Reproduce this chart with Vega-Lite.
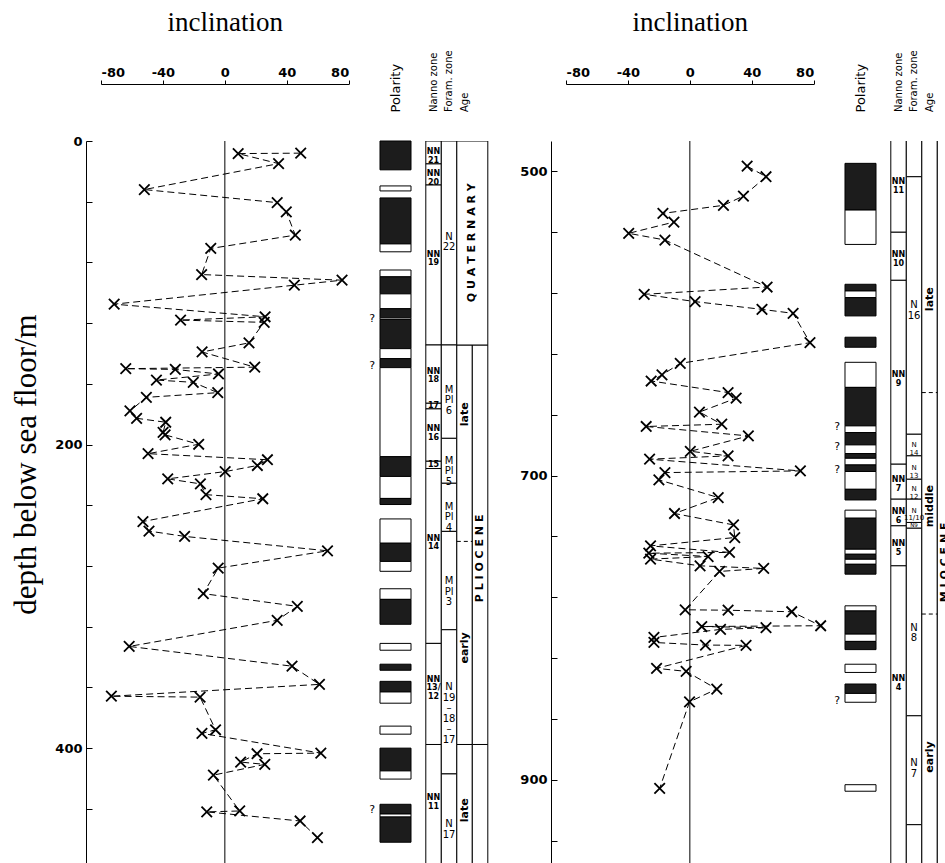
{
"$schema": "https://vega.github.io/schema/vega-lite/v6.json",
"padding": {"left": 10, "top": 8, "right": 0, "bottom": 0},
"background": "white",
"config": {"view": {"stroke": null}, "axis": {"grid": false}, "font": "DejaVu Sans"},
"datasets": {
"pts": [
{"p":"L","depth":8.0,"inc":49},{"p":"L","depth":8.3,"inc":8.6},{"p":"L","depth":14.9,"inc":34.7},{"p":"L","depth":32,"inc":-52},{"p":"L","depth":40.6,"inc":33.8},{"p":"L","depth":46.7,"inc":39.7},{"p":"L","depth":62,"inc":45.5},{"p":"L","depth":70.8,"inc":-9.1},{"p":"L","depth":88,"inc":-15},{"p":"L","depth":91.7,"inc":75.7},{"p":"L","depth":95,"inc":44.9},{"p":"L","depth":107.5,"inc":-71.5},{"p":"L","depth":115.8,"inc":26},{"p":"L","depth":118,"inc":-28.6},{"p":"L","depth":119.5,"inc":25.4},{"p":"L","depth":133,"inc":15.6},{"p":"L","depth":139,"inc":-14.7},{"p":"L","depth":149,"inc":19.3},{"p":"L","depth":150,"inc":-64},{"p":"L","depth":150.5,"inc":-32},{"p":"L","depth":153.5,"inc":-4.1},{"p":"L","depth":157.5,"inc":-44.2},{"p":"L","depth":159,"inc":-20.4},{"p":"L","depth":165.8,"inc":-4.6},{"p":"L","depth":168.9,"inc":-50.7},{"p":"L","depth":177.8,"inc":-61.3},{"p":"L","depth":182.7,"inc":-57},{"p":"L","depth":185.3,"inc":-38.2},{"p":"L","depth":192,"inc":-39.9},{"p":"L","depth":193.6,"inc":-38.6},{"p":"L","depth":199.8,"inc":-16.9},{"p":"L","depth":206,"inc":-49.6},{"p":"L","depth":210,"inc":27.5},{"p":"L","depth":213.8,"inc":21},{"p":"L","depth":217.8,"inc":0.2},{"p":"L","depth":222.6,"inc":-36.9},{"p":"L","depth":225.9,"inc":-15.8},{"p":"L","depth":233,"inc":-12.2},{"p":"L","depth":235.7,"inc":24.5},{"p":"L","depth":250.7,"inc":-52.9},{"p":"L","depth":257,"inc":-49},{"p":"L","depth":260.5,"inc":-26},{"p":"L","depth":270,"inc":66.3},{"p":"L","depth":281.4,"inc":-4.3},{"p":"L","depth":298.2,"inc":-13.9},{"p":"L","depth":306.6,"inc":46.8},{"p":"L","depth":315.8,"inc":33.8},{"p":"L","depth":333,"inc":-61.8},{"p":"L","depth":346,"inc":43.4},{"p":"L","depth":358,"inc":61.1},{"p":"L","depth":365.8,"inc":-73.3},{"p":"L","depth":366.4,"inc":-16},{"p":"L","depth":387.9,"inc":-6},{"p":"L","depth":390.3,"inc":-14.8},{"p":"L","depth":403.3,"inc":62},{"p":"L","depth":403.7,"inc":20.8},{"p":"L","depth":409.2,"inc":10.2},{"p":"L","depth":410.7,"inc":25.8},{"p":"L","depth":417.8,"inc":-7.4},{"p":"L","depth":441.4,"inc":9.6},{"p":"L","depth":442,"inc":-11.7},{"p":"L","depth":448,"inc":48.6},{"p":"L","depth":459,"inc":59.8},
{"p":"R","depth":496.5,"inc":37},{"p":"R","depth":503.5,"inc":49.2},{"p":"R","depth":516.2,"inc":34.6},{"p":"R","depth":522.3,"inc":21.7},{"p":"R","depth":527.6,"inc":-17.4},{"p":"R","depth":533.3,"inc":-10.3},{"p":"R","depth":540.7,"inc":-39.5},{"p":"R","depth":545.1,"inc":-16.1},{"p":"R","depth":576,"inc":49.9},{"p":"R","depth":580.8,"inc":-29.5},{"p":"R","depth":585.6,"inc":3.4},{"p":"R","depth":590.7,"inc":46.6},{"p":"R","depth":593.3,"inc":66.7},{"p":"R","depth":612.6,"inc":77.6},{"p":"R","depth":626.2,"inc":-6.2},{"p":"R","depth":633.8,"inc":-18},{"p":"R","depth":637.8,"inc":-25},{"p":"R","depth":645.4,"inc":24.7},{"p":"R","depth":649.1,"inc":29.9},{"p":"R","depth":658.2,"inc":6.2},{"p":"R","depth":666.2,"inc":20.6},{"p":"R","depth":667.7,"inc":-28.2},{"p":"R","depth":673.9,"inc":37.8},{"p":"R","depth":684,"inc":0.3},{"p":"R","depth":687,"inc":24.7},{"p":"R","depth":689.2,"inc":-26},{"p":"R","depth":696.9,"inc":71.4},{"p":"R","depth":698,"inc":-16.1},{"p":"R","depth":702.8,"inc":-20},{"p":"R","depth":714.4,"inc":18.3},{"p":"R","depth":724.9,"inc":-9.9},{"p":"R","depth":732.4,"inc":28.2},{"p":"R","depth":740.7,"inc":29},{"p":"R","depth":746.2,"inc":-25.4},{"p":"R","depth":750.5,"inc":25.6},{"p":"R","depth":751,"inc":-26.5},{"p":"R","depth":753.2,"inc":11.8},{"p":"R","depth":754.9,"inc":-25.4},{"p":"R","depth":759.3,"inc":6.6},{"p":"R","depth":761,"inc":47.7},{"p":"R","depth":763,"inc":19.2},{"p":"R","depth":788.2,"inc":-3},{"p":"R","depth":788.5,"inc":24.7},{"p":"R","depth":789.5,"inc":65.8},{"p":"R","depth":798.7,"inc":84.5},{"p":"R","depth":799.2,"inc":7.7},{"p":"R","depth":800,"inc":49.2},{"p":"R","depth":801.1,"inc":19.8},{"p":"R","depth":806.4,"inc":-23.2},{"p":"R","depth":809.7,"inc":-23.2},{"p":"R","depth":811.4,"inc":10.1},{"p":"R","depth":811.6,"inc":36.3},{"p":"R","depth":826.7,"inc":-21.5},{"p":"R","depth":828.7,"inc":-2.4},{"p":"R","depth":840.3,"inc":17.4},{"p":"R","depth":848.7,"inc":-0.2},{"p":"R","depth":905.6,"inc":-19.5}
],
"pol": [
{"p":"L","top":0,"bot":19,"pol":"N"},{"p":"L","top":29.6,"bot":32.9,"pol":"R"},{"p":"L","top":37.5,"bot":67.8,"pol":"N"},{"p":"L","top":67.8,"bot":73,"pol":"R"},{"p":"L","top":85,"bot":89.5,"pol":"R"},{"p":"L","top":89.5,"bot":100.7,"pol":"N"},{"p":"L","top":100.7,"bot":110.5,"pol":"R"},{"p":"L","top":110.5,"bot":116.5,"pol":"N"},{"p":"L","top":116.5,"bot":117.5,"pol":"R"},{"p":"L","top":117.5,"bot":136.8,"pol":"N"},{"p":"L","top":136.8,"bot":143.4,"pol":"R"},{"p":"L","top":143.4,"bot":149.3,"pol":"N"},{"p":"L","top":149.3,"bot":208,"pol":"R"},{"p":"L","top":208,"bot":221,"pol":"N"},{"p":"L","top":221,"bot":235.5,"pol":"R"},{"p":"L","top":235.5,"bot":239.5,"pol":"N"},{"p":"L","top":249,"bot":265,"pol":"R"},{"p":"L","top":265,"bot":277,"pol":"N"},{"p":"L","top":277,"bot":283.5,"pol":"R"},{"p":"L","top":295,"bot":302,"pol":"R"},{"p":"L","top":302,"bot":318.4,"pol":"N"},{"p":"L","top":331,"bot":335.5,"pol":"R"},{"p":"L","top":344.7,"bot":348.7,"pol":"N"},{"p":"L","top":356,"bot":363,"pol":"N"},{"p":"L","top":363,"bot":370.4,"pol":"R"},{"p":"L","top":385.5,"bot":390.8,"pol":"R"},{"p":"L","top":400,"bot":415,"pol":"N"},{"p":"L","top":415,"bot":420.4,"pol":"R"},{"p":"L","top":437,"bot":443.4,"pol":"N"},{"p":"L","top":443.4,"bot":445.4,"pol":"R"},{"p":"L","top":445.4,"bot":462,"pol":"N"},
{"p":"R","top":494.7,"bot":525.4,"pol":"N"},{"p":"R","top":525.4,"bot":548,"pol":"R"},{"p":"R","top":574.2,"bot":578.6,"pol":"N"},{"p":"R","top":578.6,"bot":583,"pol":"R"},{"p":"R","top":583,"bot":595,"pol":"N"},{"p":"R","top":609,"bot":615.6,"pol":"N"},{"p":"R","top":625.5,"bot":642,"pol":"R"},{"p":"R","top":642,"bot":667.3,"pol":"N"},{"p":"R","top":667.3,"bot":671.7,"pol":"R"},{"p":"R","top":671.7,"bot":679.8,"pol":"N"},{"p":"R","top":679.8,"bot":685.5,"pol":"R"},{"p":"R","top":685.5,"bot":688.6,"pol":"N"},{"p":"R","top":688.6,"bot":693,"pol":"R"},{"p":"R","top":693,"bot":697.3,"pol":"N"},{"p":"R","top":697.3,"bot":709,"pol":"R"},{"p":"R","top":709,"bot":716,"pol":"N"},{"p":"R","top":722.7,"bot":728,"pol":"R"},{"p":"R","top":728,"bot":748.4,"pol":"N"},{"p":"R","top":748.4,"bot":751.7,"pol":"R"},{"p":"R","top":751.7,"bot":755,"pol":"N"},{"p":"R","top":755,"bot":758.3,"pol":"R"},{"p":"R","top":758.3,"bot":764.8,"pol":"N"},{"p":"R","top":785.6,"bot":789,"pol":"R"},{"p":"R","top":789,"bot":804.2,"pol":"N"},{"p":"R","top":804.2,"bot":809,"pol":"R"},{"p":"R","top":809,"bot":814.4,"pol":"N"},{"p":"R","top":824,"bot":829.4,"pol":"R"},{"p":"R","top":837,"bot":843.2,"pol":"N"},{"p":"R","top":843.2,"bot":849,"pol":"R"},{"p":"R","top":903.2,"bot":907.5,"pol":"R"}
],
"q": [{"p":"L","d":117},{"p":"L","d":148},{"p":"L","d":441},{"p":"R","d":668},{"p":"R","d":681},{"p":"R","d":696},{"p":"R","d":848}],
"hd": [{"c":0.5,"t":"Nanno zone"},{"c":1.5,"t":"Foram. zone"},{"c":2.5,"t":"Age"}],
"zb": [
{"p":"L","c0":0,"c1":1,"top":0,"bot":15.1},{"p":"L","c0":0,"c1":1,"top":15.1,"bot":29},{"p":"L","c0":0,"c1":1,"top":29,"bot":134.4},{"p":"L","c0":0,"c1":1,"top":134.4,"bot":172.8},{"p":"L","c0":0,"c1":1,"top":172.8,"bot":176.5},{"p":"L","c0":0,"c1":1,"top":176.5,"bot":211},{"p":"L","c0":0,"c1":1,"top":211,"bot":215.8},{"p":"L","c0":0,"c1":1,"top":215.8,"bot":331},{"p":"L","c0":0,"c1":1,"top":331,"bot":397.6},{"p":"L","c0":0,"c1":1,"top":397.6,"bot":500},
{"p":"L","c0":1,"c1":2,"top":0,"bot":134.4},{"p":"L","c0":1,"c1":2,"top":134.4,"bot":195.9},{"p":"L","c0":1,"c1":2,"top":195.9,"bot":225.5},{"p":"L","c0":1,"c1":2,"top":225.5,"bot":257.2},{"p":"L","c0":1,"c1":2,"top":257.2,"bot":322},{"p":"L","c0":1,"c1":2,"top":322,"bot":417},{"p":"L","c0":1,"c1":2,"top":417,"bot":500},
{"p":"L","c0":2,"c1":3,"top":134.4,"bot":397.6},{"p":"L","c0":2,"c1":3,"top":397.6,"bot":500},{"p":"L","c0":3,"c1":4,"top":134.4,"bot":397.6},{"p":"L","c0":3,"c1":4,"top":397.6,"bot":500},{"p":"L","c0":2,"c1":4,"top":0,"bot":134.4},
{"p":"R","c0":0,"c1":1,"top":470,"bot":540},{"p":"R","c0":0,"c1":1,"top":540,"bot":571.6},{"p":"R","c0":0,"c1":1,"top":571.6,"bot":692.5},{"p":"R","c0":0,"c1":1,"top":692.5,"bot":715.5},{"p":"R","c0":0,"c1":1,"top":715.5,"bot":733},{"p":"R","c0":0,"c1":1,"top":733,"bot":759.3},{"p":"R","c0":0,"c1":1,"top":759.3,"bot":1000},
{"p":"R","c0":1,"c1":2,"top":470,"bot":503.5},{"p":"R","c0":1,"c1":2,"top":503.5,"bot":672.8},{"p":"R","c0":1,"c1":2,"top":672.8,"bot":687},{"p":"R","c0":1,"c1":2,"top":687,"bot":702.4},{"p":"R","c0":1,"c1":2,"top":702.4,"bot":715.5},{"p":"R","c0":1,"c1":2,"top":715.5,"bot":730.8},{"p":"R","c0":1,"c1":2,"top":730.8,"bot":734.6},{"p":"R","c0":1,"c1":2,"top":734.6,"bot":857.9},{"p":"R","c0":1,"c1":2,"top":857.9,"bot":929.5},{"p":"R","c0":1,"c1":2,"top":929.5,"bot":1000},
{"p":"R","c0":2,"c1":3,"top":470,"bot":1000},{"p":"R","c0":3,"c1":4,"top":470,"bot":1000}
],
"zd": [{"p":"L","c0":2,"c1":3,"d":263.8},{"p":"R","c0":2,"c1":3,"d":645.4},{"p":"R","c0":2,"c1":3,"d":791}],
"zl": [
{"p":"L","c0":0,"c1":1,"ld":7.5,"t":"NN\n21","k":"nn"},{"p":"L","c0":0,"c1":1,"ld":22,"t":"NN\n20","k":"nn"},{"p":"L","c0":0,"c1":1,"ld":75,"t":"NN\n19","k":"nn"},{"p":"L","c0":0,"c1":1,"ld":152,"t":"NN\n18","k":"nn"},{"p":"L","c0":0,"c1":1,"ld":174.6,"t":"17","k":"nn"},{"p":"L","c0":0,"c1":1,"ld":190,"t":"NN\n16","k":"nn"},{"p":"L","c0":0,"c1":1,"ld":213.4,"t":"15","k":"nn"},{"p":"L","c0":0,"c1":1,"ld":262,"t":"NN\n14","k":"nn"},{"p":"L","c0":0,"c1":1,"ld":355,"t":"NN\n13/\n12","k":"nn"},{"p":"L","c0":0,"c1":1,"ld":433,"t":"NN\n11","k":"nn"},
{"p":"L","c0":1,"c1":2,"ld":63,"t":"N\n22","k":"fo"},{"p":"L","c0":1,"c1":2,"ld":164,"t":"M\nPl\n6","k":"fo"},{"p":"L","c0":1,"c1":2,"ld":210.5,"t":"M\nPl\n5","k":"fo"},{"p":"L","c0":1,"c1":2,"ld":241,"t":"M\nPl\n4","k":"fo"},{"p":"L","c0":1,"c1":2,"ld":290,"t":"M\nPl\n3","k":"fo"},{"p":"L","c0":1,"c1":2,"ld":360,"t":"N\n19\n–\n18\n–\n17","k":"fo"},{"p":"L","c0":1,"c1":2,"ld":450,"t":"N\n17","k":"fo"},
{"p":"L","c0":2,"c1":3,"ld":180,"t":"late","k":"age"},{"p":"L","c0":2,"c1":3,"ld":334,"t":"early","k":"age"},{"p":"L","c0":2,"c1":3,"ld":441,"t":"late","k":"age"},{"p":"L","c0":2,"c1":4,"ld":67,"t":"Q U A T E R N A R Y","k":"age"},{"p":"L","c0":3,"c1":4,"ld":275,"t":"P L I O C E N E","k":"age"},
{"p":"R","c0":0,"c1":1,"ld":507,"t":"NN\n11","k":"nn"},{"p":"R","c0":0,"c1":1,"ld":555,"t":"NN\n10","k":"nn"},{"p":"R","c0":0,"c1":1,"ld":634,"t":"NN\n9","k":"nn"},{"p":"R","c0":0,"c1":1,"ld":703,"t":"NN\n7","k":"nn"},{"p":"R","c0":0,"c1":1,"ld":724,"t":"NN\n6","k":"nn"},{"p":"R","c0":0,"c1":1,"ld":745,"t":"NN\n5","k":"nn"},{"p":"R","c0":0,"c1":1,"ld":834,"t":"NN\n4","k":"nn"},
{"p":"R","c0":1,"c1":2,"ld":588,"t":"N\n16","k":"fo"},{"p":"R","c0":1,"c1":2,"ld":680,"t":"N\n14","k":"fs"},{"p":"R","c0":1,"c1":2,"ld":695,"t":"N\n13","k":"fs"},{"p":"R","c0":1,"c1":2,"ld":709,"t":"N\n12","k":"fs"},{"p":"R","c0":1,"c1":2,"ld":723,"t":"N\n11/10","k":"fs"},{"p":"R","c0":1,"c1":2,"ld":732.7,"t":"N9","k":"ft"},{"p":"R","c0":1,"c1":2,"ld":800,"t":"N\n8","k":"fo"},{"p":"R","c0":1,"c1":2,"ld":889,"t":"N\n7","k":"fo"},
{"p":"R","c0":2,"c1":3,"ld":584,"t":"late","k":"age"},{"p":"R","c0":2,"c1":3,"ld":720,"t":"middle","k":"age"},{"p":"R","c0":2,"c1":3,"ld":885,"t":"early","k":"age"},{"p":"R","c0":3,"c1":4,"ld":757,"t":"M  I  O  C  E  N  E","k":"age"}
]
},
"hconcat": [
 {"width": 247.7, "height": 724,
  "layer": [
   {"data": {"name": "pts"}, "transform": [{"filter": "datum.p === 'L'"}],
    "mark": {"type": "line", "strokeDash": [7, 4], "strokeWidth": 1, "color": "black"},
    "encoding": {
     "x": {"field": "inc", "type": "quantitative", "scale": {"domain": [-80, 80], "nice": false, "zero": false},
       "axis": {"orient": "top", "offset": 57, "domain": true, "domainColor": "black", "values": [-80,-60,-40,-20,0,20,40,60,80], "labelExpr": "datum.value % 40 === 0 ? '' + datum.value : ''", "labelOverlap": false, "tickSize": 4, "tickColor": "black", "labelPadding": 1, "labelFont": "DejaVu Sans", "labelFontWeight": "bold", "labelFontSize": 13, "labelColor": "black", "title": "inclination", "titleFont": "Liberation Serif", "titleFontSize": 27, "titleFontWeight": "normal", "titleColor": "black", "titlePadding": 30}},
     "y": {"field": "depth", "type": "quantitative", "scale": {"domain": [0, 477], "reverse": true, "nice": false, "zero": false},
       "axis": {"orient": "left", "offset": 15, "values": [0,20,40,60,80,100,120,140,160,180,200,220,240,260,280,300,320,340,360,380,400,420,440,460], "labelExpr": "datum.value % 100 === 0 ? '' + datum.value : ''", "labelOverlap": false, "tickSize": -6, "tickColor": "black", "domainColor": "black", "labelPadding": 10, "labelFont": "DejaVu Sans", "labelFontWeight": "bold", "labelFontSize": 13, "labelColor": "black", "title": "depth below sea floor/m", "titleFont": "Liberation Serif", "titleFontSize": 31, "titleFontWeight": "normal", "titleColor": "black", "titlePadding": 12, "titleY": 323}},
     "order": {"field": "depth", "type": "quantitative"}}},
   {"data": {"name": "pts"}, "transform": [{"filter": "datum.p === 'L'"}],
    "mark": {"type": "point", "shape": "M-1,-1L1,1M-1,1L1,-1", "filled": false, "strokeWidth": 1.8, "size": 110, "color": "black", "opacity": 1},
    "encoding": {"x": {"field": "inc", "type": "quantitative"}, "y": {"field": "depth", "type": "quantitative"}}},
   {"data": {"values": [{}]}, "mark": {"type": "rule", "color": "black", "strokeWidth": 1}, "encoding": {"x": {"datum": 0}}}
  ]},
 {"width": 60, "height": 724,
  "layer": [
   {"data": {"name": "pol"}, "transform": [{"filter": "datum.p === 'L'"}],
    "mark": {"type": "rect", "stroke": "black", "strokeWidth": 1},
    "encoding": {
     "x": {"datum": 0, "type": "quantitative", "scale": {"domain": [-0.935, 1], "nice": false, "zero": false},
       "axis": {"orient": "top", "values": [0.5], "labelExpr": "'Polarity'", "labelAngle": 270, "labelAlign": "left", "labelBaseline": "middle", "labelPadding": 29, "ticks": false, "domain": false, "labelFontSize": 13, "labelColor": "black", "title": null}},
     "x2": {"datum": 1},
     "y": {"field": "top", "type": "quantitative", "scale": {"domain": [0, 477], "reverse": true, "nice": false, "zero": false}, "axis": null},
     "y2": {"field": "bot"},
     "fill": {"field": "pol", "type": "nominal", "scale": {"domain": ["N", "R"], "range": ["#1c1c1c", "#ffffff"]}, "legend": null}}},
   {"data": {"name": "q"}, "transform": [{"filter": "datum.p === 'L'"}],
    "mark": {"type": "text", "text": "?", "fontSize": 11, "color": "black"},
    "encoding": {"x": {"datum": -0.25, "type": "quantitative"}, "y": {"field": "d", "type": "quantitative"}}}
  ]},
 {"width": 150.3, "height": 724,
  "layer": [
   {"data": {"name": "zb"}, "transform": [{"filter": "datum.p === 'L'"}],
    "mark": {"type": "rect", "fill": "white", "stroke": "black", "strokeWidth": 1, "clip": true},
    "encoding": {
     "x": {"field": "c0", "type": "quantitative", "scale": {"domain": [-0.826, 8.87], "nice": false, "zero": false}, "axis": null},
     "x2": {"field": "c1"},
     "y": {"field": "top", "type": "quantitative", "scale": {"domain": [0, 477], "reverse": true, "nice": false, "zero": false}, "axis": null},
     "y2": {"field": "bot"}}},
   {"data": {"name": "hd"},
    "mark": {"type": "text", "angle": 270, "align": "left", "baseline": "middle", "dx": 29, "fontSize": 10, "color": "black"},
    "encoding": {"x": {"field": "c", "type": "quantitative"}, "y": {"datum": 0}, "text": {"field": "t"}}},
   {"data": {"name": "zd"}, "transform": [{"filter": "datum.p === 'L'"}],
    "mark": {"type": "rule", "color": "black", "strokeWidth": 1, "strokeDash": [4, 3]},
    "encoding": {"x": {"field": "c0", "type": "quantitative"}, "x2": {"field": "c1"}, "y": {"field": "d", "type": "quantitative"}}},
   {"data": {"name": "zl"}, "transform": [{"filter": "datum.p === 'L' && datum.k === 'nn'"}, {"calculate": "(datum.c0 + datum.c1) / 2", "as": "xc"}],
    "mark": {"type": "text", "fontSize": 8, "fontWeight": "bold", "lineHeight": 8.5, "lineBreak": "\n", "align": "center", "baseline": "middle", "color": "black"},
    "encoding": {"x": {"field": "xc", "type": "quantitative"}, "y": {"field": "ld", "type": "quantitative"}, "text": {"field": "t"}}},
   {"data": {"name": "zl"}, "transform": [{"filter": "datum.p === 'L' && datum.k === 'fo'"}, {"calculate": "(datum.c0 + datum.c1) / 2", "as": "xc"}],
    "mark": {"type": "text", "fontSize": 10, "lineHeight": 10.5, "lineBreak": "\n", "align": "center", "baseline": "middle", "color": "black"},
    "encoding": {"x": {"field": "xc", "type": "quantitative"}, "y": {"field": "ld", "type": "quantitative"}, "text": {"field": "t"}}},
   {"data": {"name": "zl"}, "transform": [{"filter": "datum.p === 'L' && datum.k === 'age'"}, {"calculate": "(datum.c0 + datum.c1) / 2", "as": "xc"}],
    "mark": {"type": "text", "fontSize": 11, "fontWeight": "bold", "angle": 270, "align": "center", "baseline": "middle", "color": "black"},
    "encoding": {"x": {"field": "xc", "type": "quantitative"}, "y": {"field": "ld", "type": "quantitative"}, "text": {"field": "t"}}}
  ]},
 {"width": 247.7, "height": 724,
  "layer": [
   {"data": {"name": "pts"}, "transform": [{"filter": "datum.p === 'R'"}],
    "mark": {"type": "line", "strokeDash": [7, 4], "strokeWidth": 1, "color": "black"},
    "encoding": {
     "x": {"field": "inc", "type": "quantitative", "scale": {"domain": [-80, 80], "nice": false, "zero": false},
       "axis": {"orient": "top", "offset": 57, "domain": true, "domainColor": "black", "values": [-80,-60,-40,-20,0,20,40,60,80], "labelExpr": "datum.value % 40 === 0 ? '' + datum.value : ''", "labelOverlap": false, "tickSize": 4, "tickColor": "black", "labelPadding": 1, "labelFont": "DejaVu Sans", "labelFontWeight": "bold", "labelFontSize": 13, "labelColor": "black", "title": "inclination", "titleFont": "Liberation Serif", "titleFontSize": 27, "titleFontWeight": "normal", "titleColor": "black", "titlePadding": 30}},
     "y": {"field": "depth", "type": "quantitative", "scale": {"domain": [480, 956], "reverse": true, "nice": false, "zero": false},
       "axis": {"orient": "left", "offset": 15, "values": [500,520,540,560,580,600,620,640,660,680,700,720,740,760,780,800,820,840,860,880,900,920,940], "labelExpr": "datum.value % 100 === 0 ? '' + datum.value : ''", "labelOverlap": false, "tickSize": -6, "tickColor": "black", "domainColor": "black", "labelPadding": 10, "labelFont": "DejaVu Sans", "labelFontWeight": "bold", "labelFontSize": 13, "labelColor": "black", "title": null}},
     "order": {"field": "depth", "type": "quantitative"}}},
   {"data": {"name": "pts"}, "transform": [{"filter": "datum.p === 'R'"}],
    "mark": {"type": "point", "shape": "M-1,-1L1,1M-1,1L1,-1", "filled": false, "strokeWidth": 1.8, "size": 110, "color": "black", "opacity": 1},
    "encoding": {"x": {"field": "inc", "type": "quantitative"}, "y": {"field": "depth", "type": "quantitative"}}},
   {"data": {"values": [{}]}, "mark": {"type": "rule", "color": "black", "strokeWidth": 1}, "encoding": {"x": {"datum": 0}}}
  ]},
 {"width": 60, "height": 724,
  "layer": [
   {"data": {"name": "pol"}, "transform": [{"filter": "datum.p === 'R'"}],
    "mark": {"type": "rect", "stroke": "black", "strokeWidth": 1},
    "encoding": {
     "x": {"datum": 0, "type": "quantitative", "scale": {"domain": [-0.935, 1], "nice": false, "zero": false},
       "axis": {"orient": "top", "values": [0.5], "labelExpr": "'Polarity'", "labelAngle": 270, "labelAlign": "left", "labelBaseline": "middle", "labelPadding": 29, "ticks": false, "domain": false, "labelFontSize": 13, "labelColor": "black", "title": null}},
     "x2": {"datum": 1},
     "y": {"field": "top", "type": "quantitative", "scale": {"domain": [480, 956], "reverse": true, "nice": false, "zero": false}, "axis": null},
     "y2": {"field": "bot"},
     "fill": {"field": "pol", "type": "nominal", "scale": {"domain": ["N", "R"], "range": ["#1c1c1c", "#ffffff"]}, "legend": null}}},
   {"data": {"name": "q"}, "transform": [{"filter": "datum.p === 'R'"}],
    "mark": {"type": "text", "text": "?", "fontSize": 11, "color": "black"},
    "encoding": {"x": {"datum": -0.25, "type": "quantitative"}, "y": {"field": "d", "type": "quantitative"}}}
  ]},
 {"width": 69.5, "height": 724,
  "layer": [
   {"data": {"name": "zb"}, "transform": [{"filter": "datum.p === 'R'"}],
    "mark": {"type": "rect", "fill": "white", "stroke": "black", "strokeWidth": 1, "clip": true},
    "encoding": {
     "x": {"field": "c0", "type": "quantitative", "scale": {"domain": [-0.826, 3.658], "nice": false, "zero": false}, "axis": null},
     "x2": {"field": "c1"},
     "y": {"field": "top", "type": "quantitative", "scale": {"domain": [480, 956], "reverse": true, "nice": false, "zero": false}, "axis": null},
     "y2": {"field": "bot"}}},
   {"data": {"name": "hd"},
    "mark": {"type": "text", "angle": 270, "align": "left", "baseline": "middle", "dx": 29, "fontSize": 10, "color": "black"},
    "encoding": {"x": {"field": "c", "type": "quantitative"}, "y": {"datum": 480}, "text": {"field": "t"}}},
   {"data": {"name": "zd"}, "transform": [{"filter": "datum.p === 'R'"}],
    "mark": {"type": "rule", "color": "black", "strokeWidth": 1, "strokeDash": [4, 3]},
    "encoding": {"x": {"field": "c0", "type": "quantitative"}, "x2": {"field": "c1"}, "y": {"field": "d", "type": "quantitative"}}},
   {"data": {"name": "zl"}, "transform": [{"filter": "datum.p === 'R' && datum.k === 'nn'"}, {"calculate": "(datum.c0 + datum.c1) / 2", "as": "xc"}],
    "mark": {"type": "text", "fontSize": 8, "fontWeight": "bold", "lineHeight": 8.5, "lineBreak": "\n", "align": "center", "baseline": "middle", "color": "black"},
    "encoding": {"x": {"field": "xc", "type": "quantitative"}, "y": {"field": "ld", "type": "quantitative"}, "text": {"field": "t"}}},
   {"data": {"name": "zl"}, "transform": [{"filter": "datum.p === 'R' && datum.k === 'fo'"}, {"calculate": "(datum.c0 + datum.c1) / 2", "as": "xc"}],
    "mark": {"type": "text", "fontSize": 10, "lineHeight": 10.5, "lineBreak": "\n", "align": "center", "baseline": "middle", "color": "black"},
    "encoding": {"x": {"field": "xc", "type": "quantitative"}, "y": {"field": "ld", "type": "quantitative"}, "text": {"field": "t"}}},
   {"data": {"name": "zl"}, "transform": [{"filter": "datum.p === 'R' && datum.k === 'fs'"}, {"calculate": "(datum.c0 + datum.c1) / 2", "as": "xc"}],
    "mark": {"type": "text", "fontSize": 7, "lineHeight": 7.5, "lineBreak": "\n", "align": "center", "baseline": "middle", "color": "black"},
    "encoding": {"x": {"field": "xc", "type": "quantitative"}, "y": {"field": "ld", "type": "quantitative"}, "text": {"field": "t"}}},
   {"data": {"name": "zl"}, "transform": [{"filter": "datum.p === 'R' && datum.k === 'ft'"}, {"calculate": "(datum.c0 + datum.c1) / 2", "as": "xc"}],
    "mark": {"type": "text", "fontSize": 5.5, "align": "center", "baseline": "middle", "color": "black"},
    "encoding": {"x": {"field": "xc", "type": "quantitative"}, "y": {"field": "ld", "type": "quantitative"}, "text": {"field": "t"}}},
   {"data": {"name": "zl"}, "transform": [{"filter": "datum.p === 'R' && datum.k === 'age'"}, {"calculate": "(datum.c0 + datum.c1) / 2", "as": "xc"}],
    "mark": {"type": "text", "fontSize": 11, "fontWeight": "bold", "angle": 270, "align": "center", "baseline": "middle", "color": "black"},
    "encoding": {"x": {"field": "xc", "type": "quantitative"}, "y": {"field": "ld", "type": "quantitative"}, "text": {"field": "t"}}}
  ]}
],
"spacing": 2,
"bounds": "flush"
}
